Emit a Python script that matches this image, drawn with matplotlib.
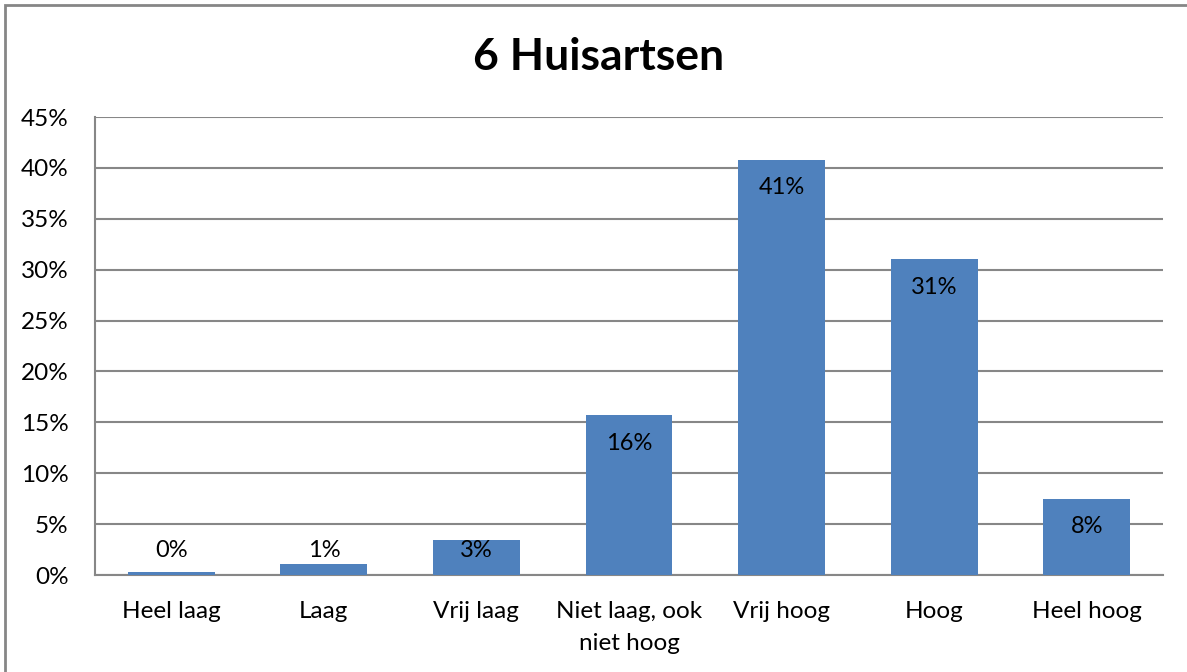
import matplotlib.pyplot as plt
from matplotlib.patches import Rectangle
import numpy as np

plt.rcParams['font.family'] = ['Lato', 'DejaVu Sans']

categories = ['Heel laag', 'Laag', 'Vrij laag', 'Niet laag, ook\nniet hoog',
              'Vrij hoog', 'Hoog', 'Heel hoog']
values = [0.3, 1.1, 3.4, 15.7, 40.8, 31.0, 7.5]
value_labels = ['0%', '1%', '3%', '16%', '41%', '31%', '8%']
yticks = [0, 5, 10, 15, 20, 25, 30, 35, 40, 45]

fig = plt.figure(figsize=(11.87, 6.72), dpi=100)
ax = fig.add_axes([95 / 1187, 97 / 672, (1163 - 95) / 1187, (575 - 117) / 672])

x = np.arange(len(categories))
ax.bar(x, values, width=0.57, color='#4F81BD', zorder=3)

# labels sit "inside end", but never lower than just above the baseline
for xi, v, lab in zip(x, values, value_labels):
    ly = max(v - 2.75, 2.45)
    ax.text(xi, ly, lab, ha='center', va='center', fontsize=17, color='black', zorder=4)

ax.set_xlim(-0.5, len(categories) - 0.5)
ax.set_ylim(0, 45)
ax.set_yticks(yticks)
ax.set_yticklabels([f'{t}%' for t in yticks])
ax.set_xticks(x)
ax.set_xticklabels(categories, linespacing=1.65)
ax.tick_params(axis='both', length=0, labelsize=17.5)
ax.tick_params(axis='y', pad=19)
ax.tick_params(axis='x', pad=19)

ax.grid(axis='y', color='#878787', linewidth=1.5, zorder=0)
for s in ['top', 'right']:
    ax.spines[s].set_visible(False)
for s in ['left', 'bottom']:
    ax.spines[s].set_color('#878787')
    ax.spines[s].set_linewidth(1.5)

fig.text(599 / 1187, 1 - 57 / 672, '6 Huisartsen', ha='center', va='center',
         fontsize=32, fontweight='bold')

fig.patches.append(Rectangle((5 / 1187, -0.1), 1.2, 1 - 5 / 672 + 0.1,
                             transform=fig.transFigure, fill=False,
                             edgecolor='#868686', linewidth=2))

fig.savefig('out.png', dpi=100)
